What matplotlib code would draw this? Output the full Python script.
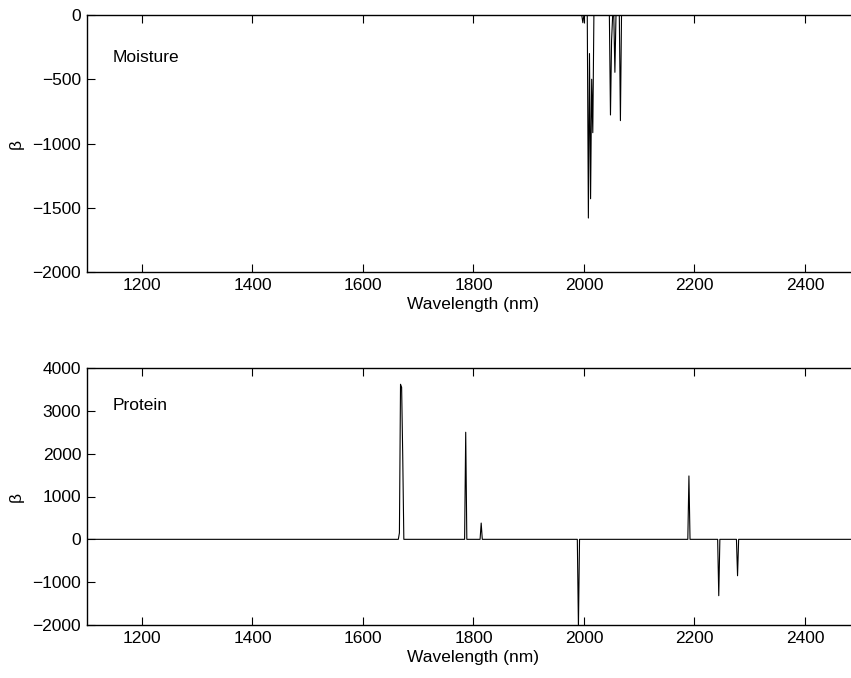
import numpy as np
import matplotlib
matplotlib.use("Agg")
import matplotlib.pyplot as plt

plt.rcParams['font.family'] = ['Liberation Sans', 'DejaVu Sans']
plt.rcParams['font.size'] = 12.5

# Wavelength grid (nm)
wavelength = np.arange(1100, 2500, 2)

# Non-zero regression coefficients for moisture
moist_wl = [1998, 2008, 2010, 2012, 2014, 2016, 2048, 2050, 2056, 2066]
moist_beta = [-60, -1580, -300, -1430, -500, -916, -778, -200, -446, -822]

# Non-zero regression coefficients for protein
prot_wl = [1666, 1668, 1670, 1672, 1786, 1814, 1990, 2190, 2244, 2278]
prot_beta = [150, 3620, 3550, 1950, 2500, 380, -2050, 1480, -1316, -850]


def coef_series(wl, vals):
    beta = np.zeros_like(wavelength, dtype=float)
    for w, v in zip(wl, vals):
        beta[np.searchsorted(wavelength, w)] = v
    return beta


moisture = coef_series(moist_wl, moist_beta)
protein = coef_series(prot_wl, prot_beta)

W, H = 851, 678
fig = plt.figure(figsize=(W / 100, H / 100), dpi=100)

left = 86.7 / W
width = 1400 * 0.5525 / W
height = 257 / H
ax1 = fig.add_axes([left, (H - 272) / H, width, height])
ax2 = fig.add_axes([left, (H - 625) / H, width, height])


def style(ax):
    ax.set_xlim(1100, 2500)
    ax.set_xticks([1200, 1400, 1600, 1800, 2000, 2200, 2400])
    ax.tick_params(direction='in', length=5.8, width=0.8, top=True, right=True,
                   labelsize=12.5, pad=4)
    for s in ax.spines.values():
        s.set_linewidth(1.0)
    ax.set_xlabel('Wavelength (nm)', labelpad=3)
    ax.set_ylabel('β', labelpad=6)


ax1.plot(wavelength, moisture, color='black', linewidth=0.8)
ax1.set_ylim(-2000, 0)
ax1.set_yticks([-2000, -1500, -1000, -500, 0])
style(ax1)
ax1.text(1147, -330, 'Moisture', va='center', ha='left', fontsize=12.5)

ax2.plot(wavelength, protein, color='black', linewidth=0.8)
ax2.set_ylim(-2000, 4000)
ax2.set_yticks([-2000, -1000, 0, 1000, 2000, 3000, 4000])
style(ax2)
ax2.text(1147, 3130, 'Protein', va='center', ha='left', fontsize=12.5)

fig.savefig('out.png', dpi=100)
